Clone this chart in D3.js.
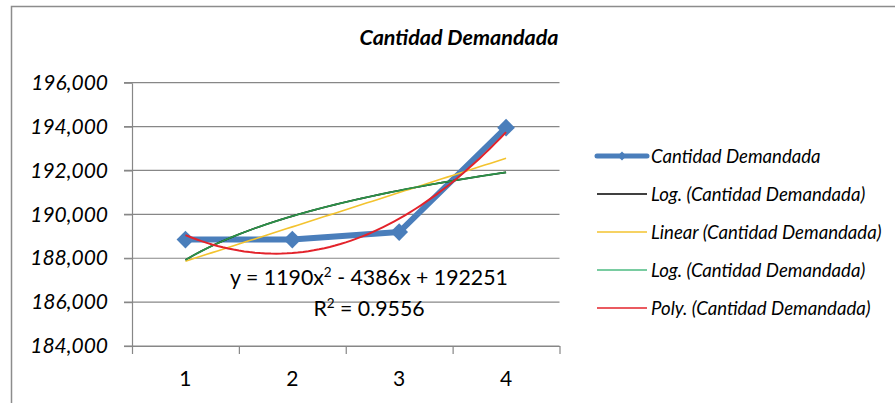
<!DOCTYPE html>
<html>
<head>
<meta charset="utf-8">
<script src="https://cdn.jsdelivr.net/npm/d3@7"></script>
<style>
  body { margin: 0; background: #fff; }
  svg { display: block; }
  text { font-family: Lato, "Open Sans", sans-serif; fill: #000; }
</style>
</head>
<body>
<svg id="chart" width="895" height="403"></svg>
<script>
// Quantity demanded per period
const categories = ["1", "2", "3", "4"];
const demand = [188851, 188851, 189191, 193951];
const yTicks = [184000, 186000, 188000, 190000, 192000, 194000, 196000];

// Second-order polynomial trend: c0 + c1·x + c2·x²
const polyCoef = [192251, -4386, 1190];
const polyR2 = "0.9556";

const legendLabels = [
  "Cantidad Demandada",
  "Log. (Cantidad Demandada)",
  "Linear (Cantidad Demandada)",
  "Log. (Cantidad Demandada)",
  "Poly. (Cantidad Demandada)"
];

const svg = d3.select("#chart");
svg.append("rect").attr("width", 895).attr("height", 403).attr("fill", "#fff");

// chart frame
svg.append("path")
  .attr("d", "M11.5,403 V6.5 H895")
  .attr("fill", "none").attr("stroke", "#8c8c8c").attr("stroke-width", 1.5);

const plot = { left: 132, right: 559.5, top: 82.7, bottom: 346 };

const y = d3.scaleLinear().domain([184000, 196000]).range([plot.bottom, plot.top]);
const xBand = d3.scaleBand().domain(categories).range([plot.left, plot.right]);
const xLin = d3.scaleLinear().domain([0.5, 4.5]).range([plot.left, plot.right]);

const gridColor = "#878787";

// horizontal gridlines
svg.append("g").selectAll("line").data(yTicks).join("line")
  .attr("x1", plot.left - 8).attr("x2", plot.right)
  .attr("y1", d => y(d)).attr("y2", d => y(d))
  .attr("stroke", gridColor).attr("stroke-width", 1.2);

// y axis
const yAxis = svg.append("g").attr("transform", `translate(${plot.left},0)`)
  .call(d3.axisLeft(y).tickValues(yTicks).tickFormat(d3.format(",")).tickSize(8).tickSizeOuter(0).tickPadding(16));
yAxis.select(".domain").attr("stroke", gridColor).attr("stroke-width", 1.2);
yAxis.selectAll(".tick line").attr("stroke", gridColor).attr("stroke-width", 1.2);
yAxis.selectAll("text")
  .style("font-family", "Lato, sans-serif").style("font-style", "italic")
  .style("font-size", "21px").attr("fill", "#1a1a1a");

// x axis: tick marks at category boundaries, labels at centres
const xTicks = svg.append("g").attr("transform", `translate(0,${plot.bottom})`)
  .call(d3.axisBottom(xLin).tickValues([0.5, 1.5, 2.5, 3.5, 4.5]).tickFormat("").tickSize(8).tickSizeOuter(0));
xTicks.select(".domain").attr("stroke", gridColor).attr("stroke-width", 1.2);
xTicks.selectAll(".tick line").attr("stroke", gridColor).attr("stroke-width", 1.2);

const xLabels = svg.append("g").attr("transform", `translate(0,${plot.bottom})`)
  .call(d3.axisBottom(xBand).tickSize(0));
xLabels.select(".domain").remove();
xLabels.selectAll("text")
  .attr("y", 40).attr("dy", null)
  .style("font-family", "Lato, sans-serif").style("font-size", "21px").attr("fill", "#1a1a1a");

// series
const xs = categories.map(Number);
const pts = xs.map((x, i) => [x, demand[i]]);
const line = d3.line().x(d => xLin(d[0])).y(d => y(d[1]));

const blue = "#4a7ebb";
svg.append("path").datum(pts)
  .attr("d", line).attr("fill", "none")
  .attr("stroke", blue).attr("stroke-width", 6).attr("stroke-linejoin", "round");

const diamond = d3.symbol().type(d3.symbolDiamond2).size(200);
svg.append("g").selectAll("path").data(pts).join("path")
  .attr("d", diamond)
  .attr("transform", d => `translate(${xLin(d[0])},${y(d[1])})`)
  .attr("fill", blue);

// least-squares fits on the series
function fitLinear(xv, yv) {
  const mx = d3.mean(xv), my = d3.mean(yv);
  const sxy = d3.sum(xv, (x, i) => (x - mx) * (yv[i] - my));
  const sxx = d3.sum(xv, x => (x - mx) ** 2);
  const b = sxy / sxx;
  return [my - b * mx, b];
}
const lin = fitLinear(xs, demand);
const lg = fitLinear(xs.map(Math.log), demand);

const samples = d3.range(1, 4.0001, 0.05);
const curve = f => samples.map(x => [x, f(x)]);

const linFn = x => lin[0] + lin[1] * x;
const logFn = x => lg[0] + lg[1] * Math.log(x);
const polyFn = x => polyCoef[0] + polyCoef[1] * x + polyCoef[2] * x * x;

const trends = [
  { fn: logFn, color: "#000000", w: 1.6 },
  { fn: linFn, color: "#f3c32f", w: 1.6 },
  { fn: logFn, color: "#2c9148", w: 1.8 },
  { fn: polyFn, color: "#e3232b", w: 2 }
];
svg.append("g").selectAll("path").data(trends).join("path")
  .attr("d", d => line(curve(d.fn)))
  .attr("fill", "none").attr("stroke", d => d.color).attr("stroke-width", d => d.w);

// trend equation
const eq = svg.append("g").style("font-family", "Lato, sans-serif").style("font-size", "21.3px");
const t1 = eq.append("text").attr("x", 369).attr("y", 285).attr("text-anchor", "middle");
t1.append("tspan").text(`y = ${polyCoef[2]}x`);
t1.append("tspan").text("2").attr("dy", -8).style("font-size", "13.5px");
t1.append("tspan").text(` - ${-polyCoef[1]}x + ${polyCoef[0]}`).attr("dy", 8);
const t2 = eq.append("text").attr("x", 369).attr("y", 316).attr("text-anchor", "middle");
t2.append("tspan").text("R");
t2.append("tspan").text("2").attr("dy", -8).style("font-size", "13.5px");
t2.append("tspan").text(` = ${polyR2}`).attr("dy", 8);

// title
svg.append("text").attr("x", 459).attr("y", 45).attr("text-anchor", "middle")
  .style("font-weight", "bold").style("font-style", "italic").style("font-size", "21.5px")
  .text("Cantidad Demandada");

// legend
const legendColors = [blue, "#000000", "#f3c32f", "#4cbb82", "#e3232b"];
const legendY = [156, 194, 232, 270, 308];
const lg_ = svg.append("g");
legendLabels.forEach((label, i) => {
  const g = lg_.append("g").attr("transform", `translate(0,${legendY[i]})`);
  g.append("line").attr("x1", 597).attr("x2", 647).attr("y1", 0).attr("y2", 0)
    .attr("stroke", legendColors[i]).attr("stroke-width", i === 0 ? 5 : 1.6)
    .attr("stroke-linecap", i === 0 ? "round" : "butt");
  if (i === 0) {
    g.append("path").attr("d", d3.symbol().type(d3.symbolDiamond2).size(50))
      .attr("transform", "translate(622,0)").attr("fill", blue);
  }
  g.append("text").attr("x", 651).attr("dy", "0.35em")
    .style("font-style", "italic").style("font-size", "18.6px").attr("fill", "#1a1a1a")
    .text(label);
});
</script>
</body>
</html>
